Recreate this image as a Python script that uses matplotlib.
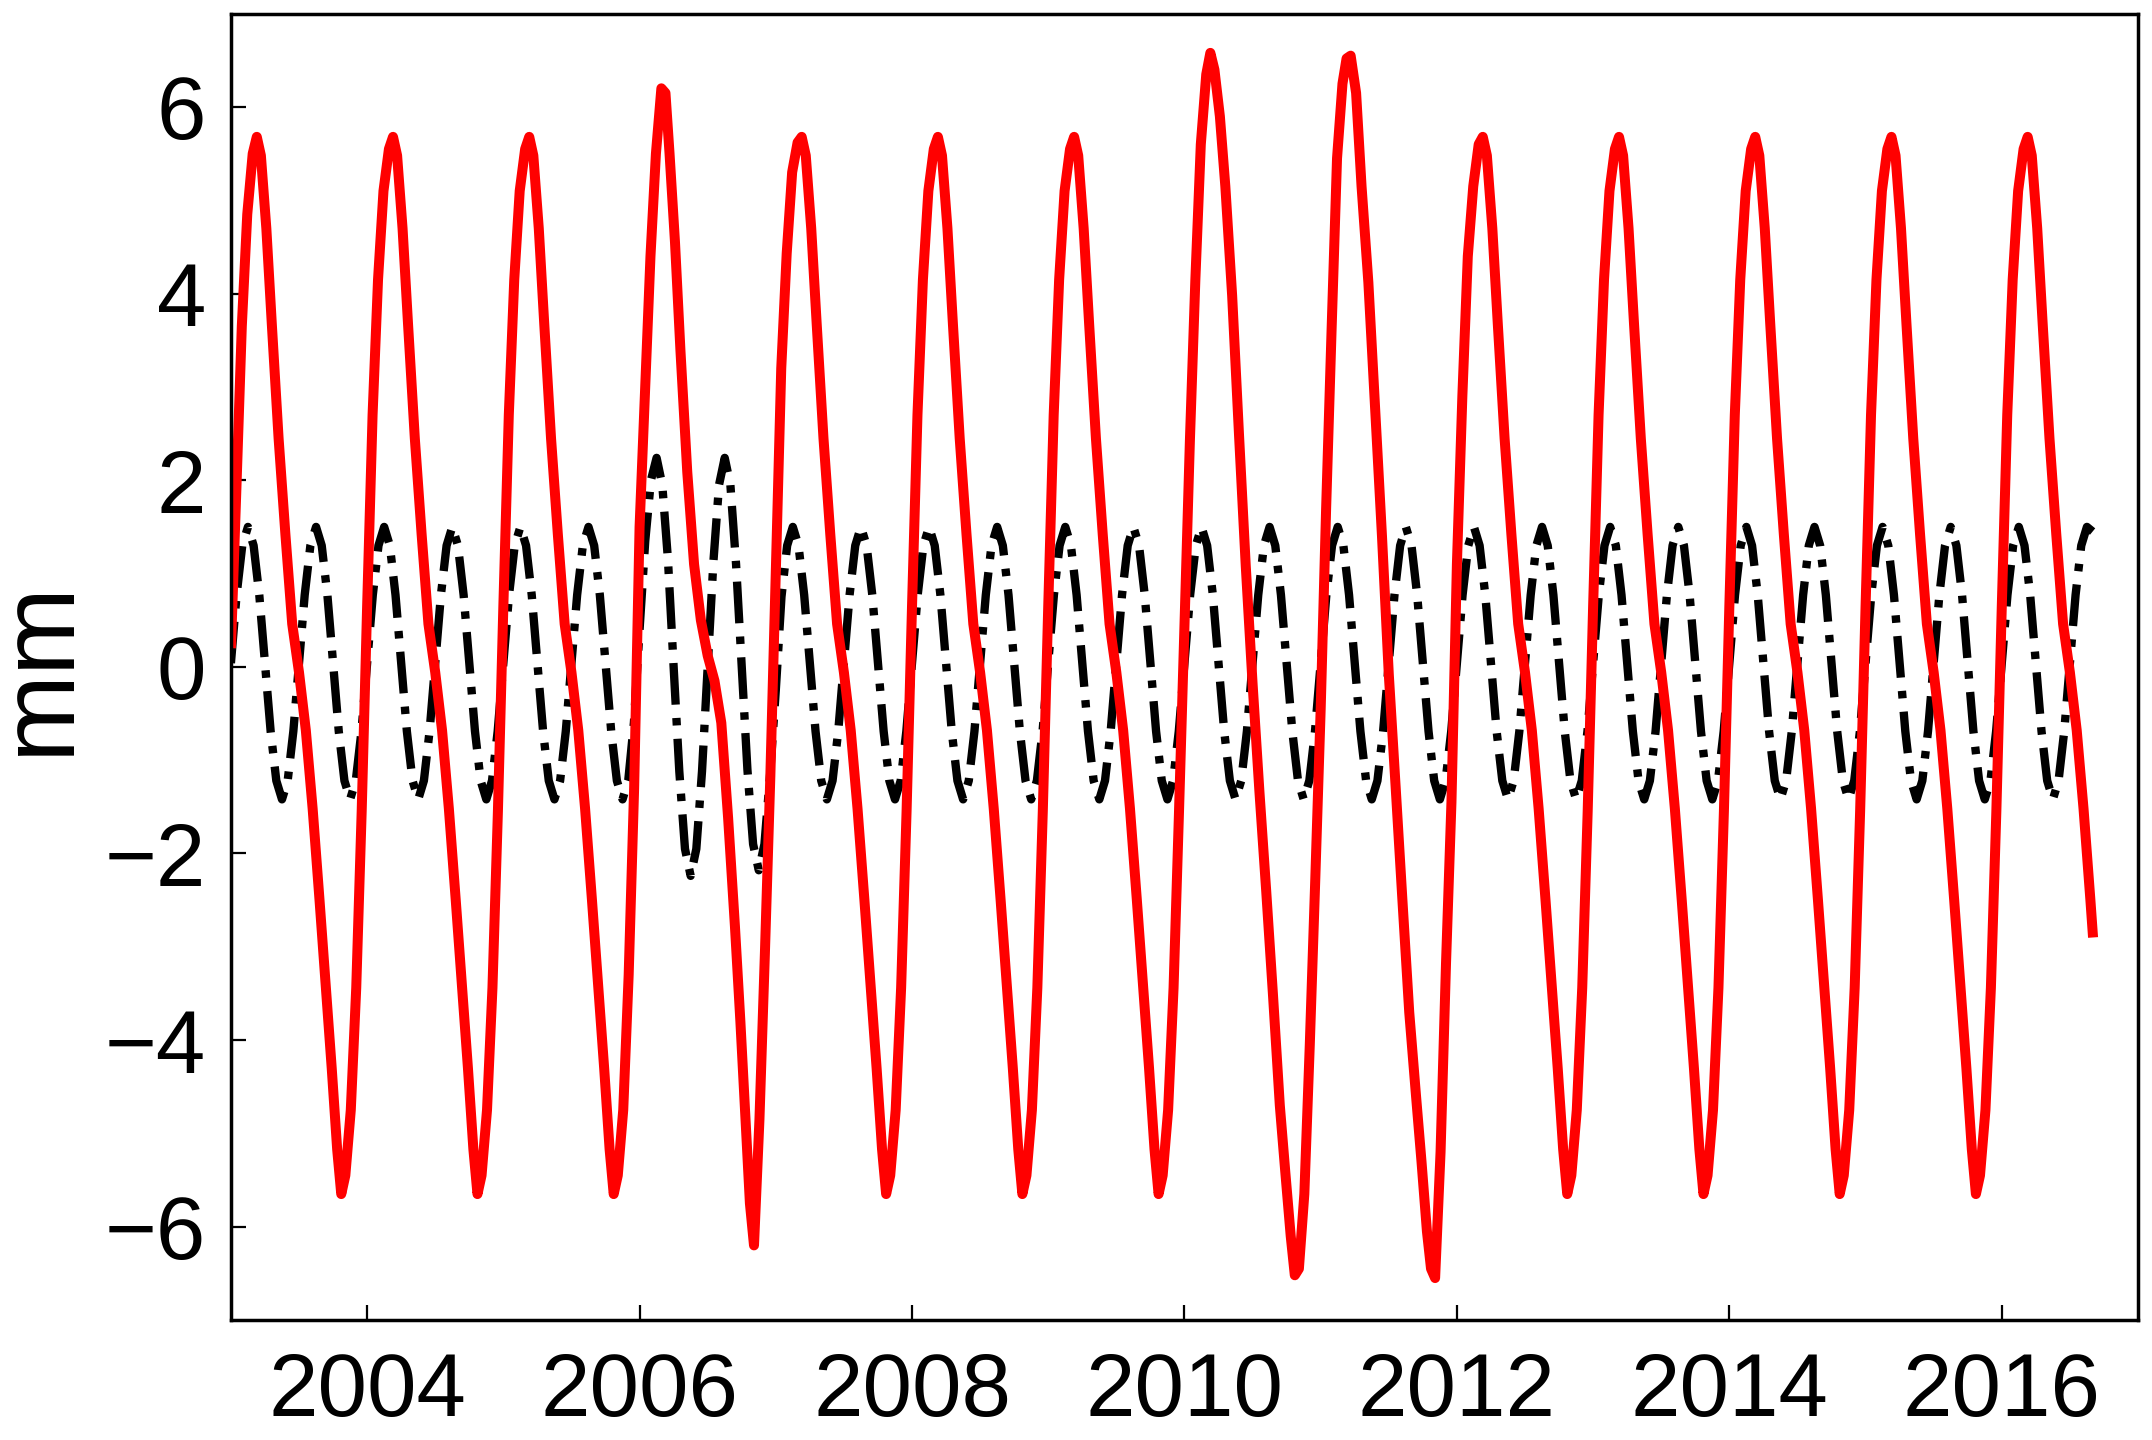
import matplotlib

matplotlib.use("Agg")
import matplotlib.pyplot as plt
import numpy as np

plt.rcParams["font.family"] = ["Liberation Sans", "DejaVu Sans"]

# sample positions inside each year (fraction of a year) for the red curve
RED_PHASE = [0.00, 0.04, 0.08, 0.12, 0.16, 0.19, 0.22, 0.26, 0.30, 0.35, 0.40, 0.45,
             0.50, 0.55, 0.60, 0.65, 0.70, 0.74, 0.78, 0.81, 0.84, 0.88, 0.92, 0.96]
YEARS = list(range(2003, 2017))

# red solid curve (mm), one row per year
RED_MM = [
    0.20, 1.90, 3.65, 4.85, 5.50, 5.68, 5.48, 4.70, 3.68, 2.45, 1.42, 0.46, -0.06, -0.68, -1.52, -2.49, -3.50, -4.30, -5.17, -5.65, -5.45, -4.75, -3.44, -1.55,  # 2003
    0.65, 2.70, 4.15, 5.10, 5.55, 5.68, 5.48, 4.70, 3.68, 2.45, 1.42, 0.46, -0.06, -0.68, -1.52, -2.49, -3.50, -4.30, -5.17, -5.65, -5.45, -4.75, -3.44, -1.55,  # 2004
    0.65, 2.70, 4.15, 5.10, 5.55, 5.68, 5.48, 4.70, 3.68, 2.45, 1.42, 0.46, -0.06, -0.68, -1.52, -2.49, -3.50, -4.30, -5.17, -5.65, -5.45, -4.75, -3.30, -1.30,  # 2005
    1.50, 2.96, 4.40, 5.50, 6.20, 6.15, 5.50, 4.55, 3.39, 2.09, 1.10, 0.50, 0.12, -0.15, -0.60, -1.62, -2.78, -3.80, -4.91, -5.75, -6.20, -4.85, -3.07, -1.17,  # 2006
    1.00, 3.20, 4.43, 5.30, 5.62, 5.68, 5.48, 4.70, 3.68, 2.45, 1.42, 0.46, -0.06, -0.68, -1.52, -2.49, -3.50, -4.30, -5.17, -5.65, -5.45, -4.75, -3.44, -1.55,  # 2007
    0.65, 2.70, 4.15, 5.10, 5.55, 5.68, 5.48, 4.70, 3.68, 2.45, 1.42, 0.46, -0.06, -0.68, -1.52, -2.49, -3.50, -4.30, -5.17, -5.65, -5.45, -4.75, -3.44, -1.55,  # 2008
    0.65, 2.70, 4.15, 5.10, 5.55, 5.68, 5.48, 4.70, 3.68, 2.45, 1.42, 0.46, -0.06, -0.68, -1.52, -2.49, -3.50, -4.30, -5.17, -5.65, -5.45, -4.75, -3.44, -1.55,  # 2009
    0.45, 2.43, 4.15, 5.60, 6.35, 6.58, 6.40, 5.90, 5.15, 3.98, 2.50, 1.08, -0.18, -1.33, -2.40, -3.52, -4.70, -5.41, -6.10, -6.52, -6.45, -5.65, -4.05, -2.29,  # 2010
    -0.45, 1.70, 3.61, 5.45, 6.25, 6.52, 6.55, 6.15, 5.15, 4.12, 2.75, 1.40, -0.08, -1.28, -2.50, -3.70, -4.60, -5.30, -6.05, -6.45, -6.55, -5.20, -3.18, -1.45,  # 2011
    1.10, 2.90, 4.40, 5.15, 5.60, 5.68, 5.48, 4.70, 3.68, 2.45, 1.42, 0.46, -0.06, -0.68, -1.52, -2.49, -3.50, -4.30, -5.17, -5.65, -5.45, -4.75, -3.44, -1.55,  # 2012
    0.65, 2.70, 4.15, 5.10, 5.55, 5.68, 5.48, 4.70, 3.68, 2.45, 1.42, 0.46, -0.06, -0.68, -1.52, -2.49, -3.50, -4.30, -5.17, -5.65, -5.45, -4.75, -3.44, -1.55,  # 2013
    0.65, 2.70, 4.15, 5.10, 5.55, 5.68, 5.48, 4.70, 3.68, 2.45, 1.42, 0.46, -0.06, -0.68, -1.52, -2.49, -3.50, -4.30, -5.17, -5.65, -5.45, -4.75, -3.44, -1.55,  # 2014
    0.65, 2.70, 4.15, 5.10, 5.55, 5.68, 5.48, 4.70, 3.68, 2.45, 1.42, 0.46, -0.06, -0.68, -1.52, -2.49, -3.50, -4.30, -5.17, -5.65, -5.45, -4.75, -3.44, -1.55,  # 2015
    0.65, 2.70, 4.15, 5.10, 5.55, 5.68, 5.48, 4.70, 3.68, 2.45, 1.42, 0.46, -0.06, -0.68, -1.52, -2.49,  # 2016
]
RED_END_T = 2016.67
RED_END_MM = -2.90

# black dash-dot curve (mm), 24 samples per year starting 2003.0
BLACK_STEP = 1 / 24
BLACK_MM = [
    0.04, 0.77, 1.30, 1.50, 1.30, 0.77, 0.04, -0.69, -1.22, -1.42, -1.22, -0.69, 0.04, 0.77, 1.30, 1.50, 1.30, 0.77, 0.04, -0.69, -1.22, -1.42, -1.22, -0.69,  # 2003
    0.04, 0.77, 1.30, 1.50, 1.30, 0.77, 0.04, -0.69, -1.22, -1.42, -1.22, -0.69, 0.04, 0.77, 1.30, 1.50, 1.30, 0.77, 0.04, -0.69, -1.22, -1.42, -1.22, -0.69,  # 2004
    0.04, 0.77, 1.30, 1.50, 1.30, 0.77, 0.04, -0.69, -1.22, -1.42, -1.22, -0.69, 0.04, 0.77, 1.30, 1.50, 1.30, 0.77, 0.04, -0.69, -1.22, -1.42, -1.22, -0.60,  # 2005
    0.40, 1.35, 2.00, 2.24, 1.95, 1.15, 0.00, -1.12, -1.95, -2.24, -1.95, -1.12, 0.00, 1.12, 1.95, 2.24, 1.95, 1.10, 0.00, -1.10, -1.90, -2.18, -1.90, -1.15,  # 2006
    -0.25, 0.75, 1.30, 1.50, 1.30, 0.77, 0.04, -0.69, -1.22, -1.42, -1.22, -0.69, 0.04, 0.77, 1.30, 1.50, 1.30, 0.77, 0.04, -0.69, -1.22, -1.42, -1.22, -0.69,  # 2007
    0.04, 0.77, 1.30, 1.50, 1.30, 0.77, 0.04, -0.69, -1.22, -1.42, -1.22, -0.69, 0.04, 0.77, 1.30, 1.50, 1.30, 0.77, 0.04, -0.69, -1.22, -1.42, -1.22, -0.69,  # 2008
    0.04, 0.77, 1.30, 1.50, 1.30, 0.77, 0.04, -0.69, -1.22, -1.42, -1.22, -0.69, 0.04, 0.77, 1.30, 1.50, 1.30, 0.77, 0.04, -0.69, -1.22, -1.42, -1.22, -0.69,  # 2009
    0.04, 0.77, 1.30, 1.50, 1.30, 0.77, 0.04, -0.69, -1.22, -1.42, -1.22, -0.69, 0.04, 0.77, 1.30, 1.50, 1.30, 0.77, 0.04, -0.69, -1.22, -1.42, -1.22, -0.69,  # 2010
    0.04, 0.77, 1.30, 1.50, 1.30, 0.77, 0.04, -0.69, -1.22, -1.42, -1.22, -0.69, 0.04, 0.77, 1.30, 1.50, 1.30, 0.77, 0.04, -0.69, -1.22, -1.42, -1.22, -0.69,  # 2011
    0.04, 0.77, 1.30, 1.50, 1.30, 0.77, 0.04, -0.69, -1.22, -1.42, -1.22, -0.69, 0.04, 0.77, 1.30, 1.50, 1.30, 0.77, 0.04, -0.69, -1.22, -1.42, -1.22, -0.69,  # 2012
    0.04, 0.77, 1.30, 1.50, 1.30, 0.77, 0.04, -0.69, -1.22, -1.42, -1.22, -0.69, 0.04, 0.77, 1.30, 1.50, 1.30, 0.77, 0.04, -0.69, -1.22, -1.42, -1.22, -0.69,  # 2013
    0.04, 0.77, 1.30, 1.50, 1.30, 0.77, 0.04, -0.69, -1.22, -1.42, -1.22, -0.69, 0.04, 0.77, 1.30, 1.50, 1.30, 0.77, 0.04, -0.69, -1.22, -1.42, -1.22, -0.69,  # 2014
    0.04, 0.77, 1.30, 1.50, 1.30, 0.77, 0.04, -0.69, -1.22, -1.42, -1.22, -0.69, 0.04, 0.77, 1.30, 1.50, 1.30, 0.77, 0.04, -0.69, -1.22, -1.42, -1.22, -0.69,  # 2015
    0.04, 0.77, 1.30, 1.50, 1.30, 0.77, 0.04, -0.69, -1.22, -1.42, -1.22, -0.69, 0.04, 0.77, 1.30, 1.50, 1.45,  # 2016
]

X_TICKS = [2004, 2006, 2008, 2010, 2012, 2014, 2016]
Y_TICKS = [-6, -4, -2, 0, 2, 4, 6]

red_t = np.add.outer(YEARS, RED_PHASE).ravel()[: len(RED_MM)]
red_t = np.append(red_t, RED_END_T)
red_v = np.append(RED_MM, RED_END_MM)
black_t = 2003.0 + np.arange(len(BLACK_MM)) * BLACK_STEP

fig = plt.figure(figsize=(21.52, 14.4), dpi=100)
ax = fig.add_axes([0.1073, 0.0833, 0.8862, 0.9072])

ax.plot(black_t, BLACK_MM, color="black", lw=6.0, dashes=(5.0, 1.6, 0.9, 1.6),
        solid_joinstyle="round", dash_joinstyle="round")
ax.plot(red_t, red_v, color="#ff0000", lw=7.2, solid_joinstyle="round",
        solid_capstyle="butt")

ax.set_xlim(2003, 2017)
ax.set_ylim(-7, 7)
ax.set_xticks(X_TICKS)
ax.set_yticks(Y_TICKS)
ax.tick_params(direction="in", length=11, width=1.6, labelsize=64)
ax.tick_params(axis="x", pad=22)
ax.tick_params(axis="y", pad=18)
for spine in ax.spines.values():
    spine.set_linewidth(2.5)

ax.set_ylabel("mm", fontsize=76)
ax.yaxis.set_label_coords(-0.074, 0.5)

fig.savefig("out.png", dpi=100)
plt.close(fig)
